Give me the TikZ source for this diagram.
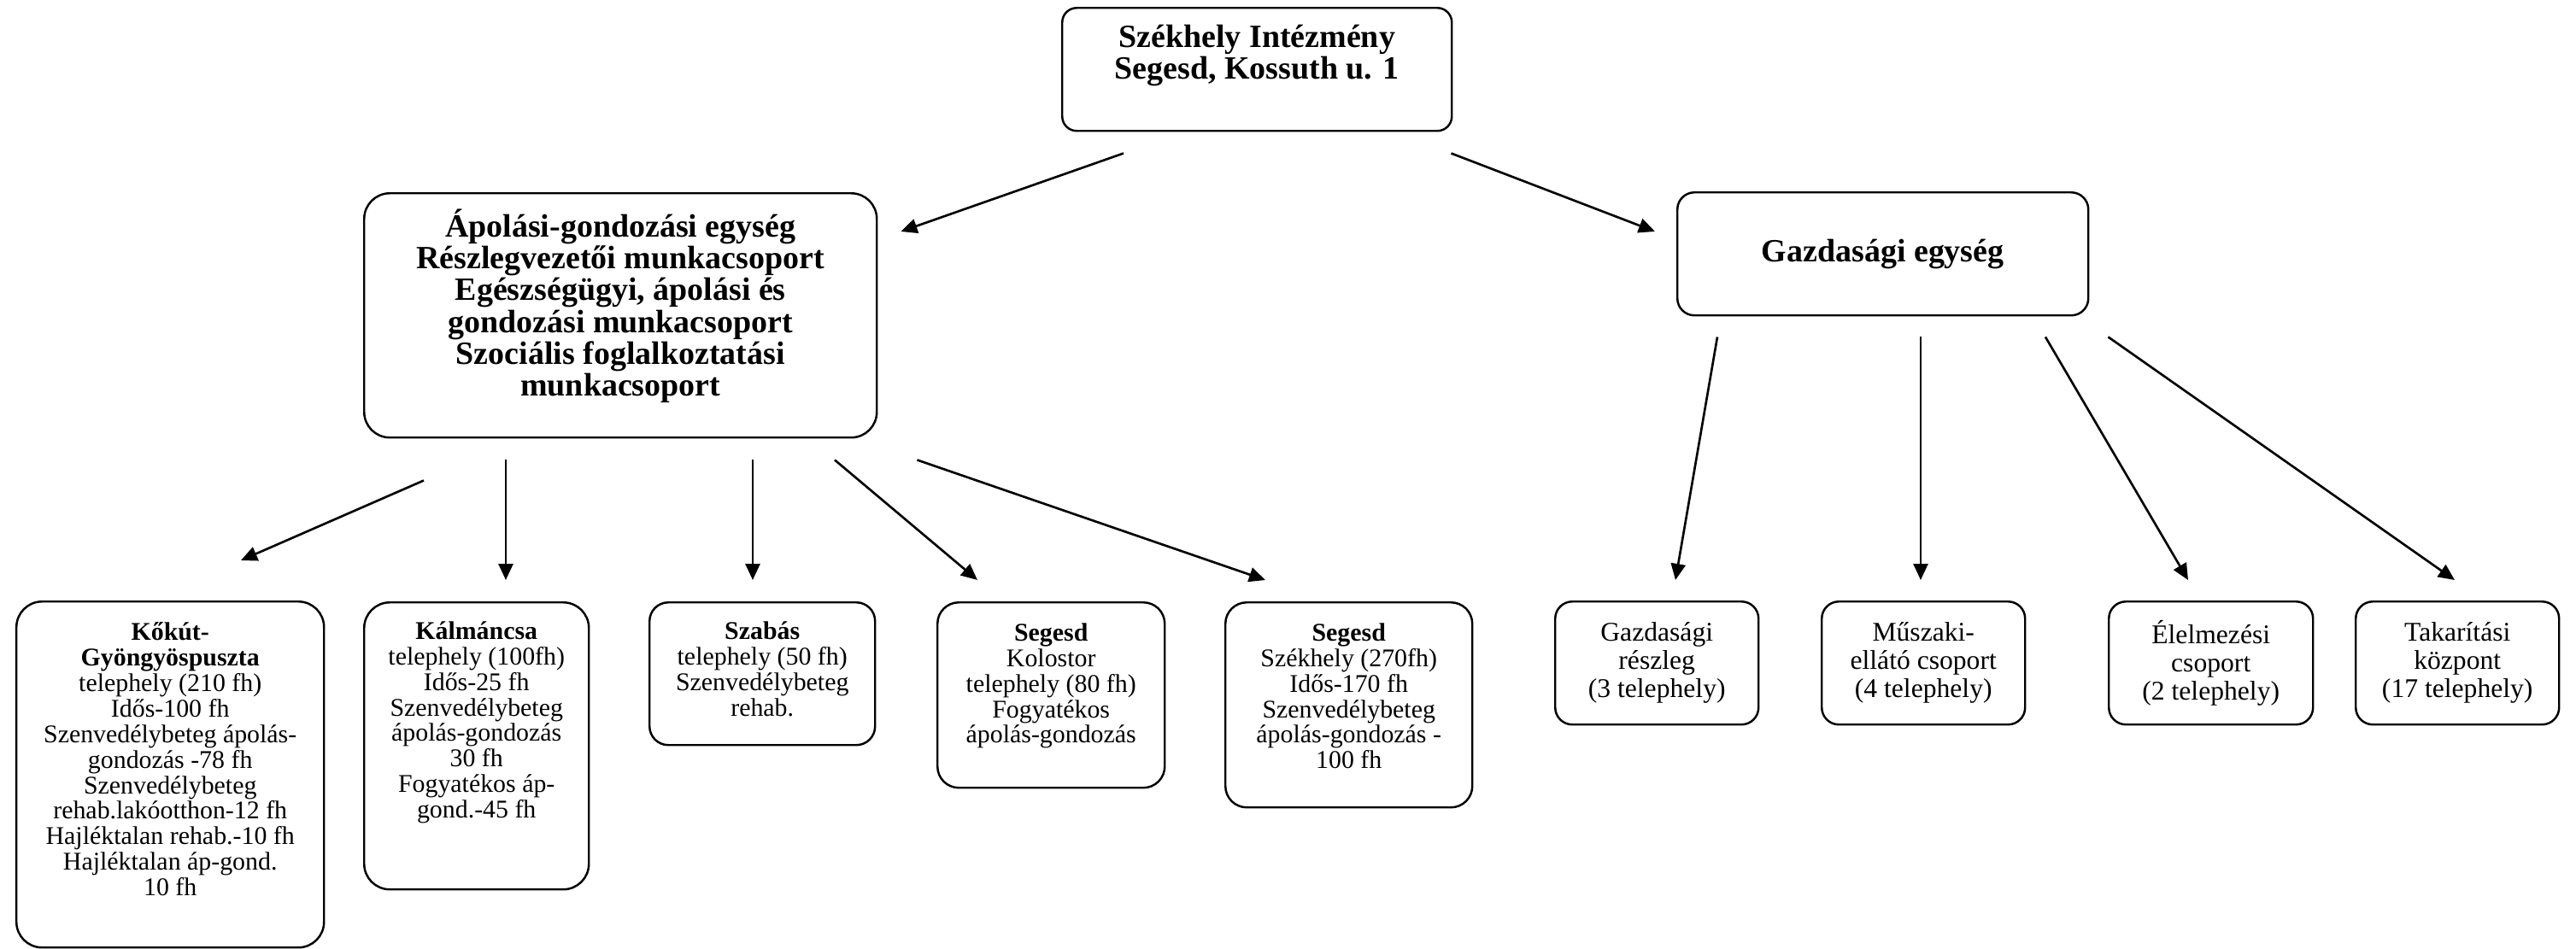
\documentclass[tikz,border=0pt]{standalone}
\usepackage{fontspec}
\setmainfont{Liberation Serif}
\usepackage{tikz}
\usetikzlibrary{arrows.meta}

\newcommand{\unitfont}{\fontsize{10.8}{10.6}\selectfont\bfseries}
\newcommand{\sitefont}{\fontsize{8.5}{8.5}\selectfont}
\newcommand{\groupfont}{\fontsize{9}{9.4}\selectfont}

\tikzset{
  unitbox/.style={draw, line width=0.7pt, rounded corners=0.17cm, inner sep=0pt, anchor=north west},
  sitebox/.style={unitbox, rounded corners=0.3cm},
  groupbox/.style={unitbox, rounded corners=0.2cm, align=center, font=\groupfont},
  lbl/.style={align=center, inner sep=0pt, anchor=north},
  arr/.style={-{Triangle[length=0.19cm,width=0.17cm]}, line width=0.75pt}
}

\begin{document}
\begin{tikzpicture}
\useasboundingbox (0,0) rectangle (30.15,-11.10);

\node[unitbox, minimum width=4.56cm, minimum height=1.44cm] (hq) at (12.42,-0.08) {};
\node[lbl, font=\unitfont] (hqtext) at ([yshift=-0.20cm]hq.north) {Székhely Intézmény\\Segesd, Kossuth u. 1};

\node[unitbox, rounded corners=0.3cm, minimum width=6.00cm, minimum height=2.86cm] (apolas) at (4.25,-2.25) {};
\node[lbl, font=\unitfont] (apolastext) at ([yshift=-0.19cm]apolas.north) {Ápolási-gondozási egység\\Részlegvezetői munkacsoport\\Egészségügyi, ápolási és\\gondozási munkacsoport\\Szociális foglalkoztatási\\munkacsoport};

\node[unitbox, rounded corners=0.2cm, minimum width=4.81cm, minimum height=1.44cm, font=\unitfont] (gazd) at (19.62,-2.24) {Gazdasági egység};

\node[sitebox, minimum width=3.60cm, minimum height=4.05cm] (kokut) at (0.18,-7.03) {};
\node[lbl, font=\sitefont] (kokuttext) at ([yshift=-0.25cm]kokut.north) {\textbf{Kőkút-}\\\textbf{Gyöngyöspuszta}\\telephely (210 fh)\\Idős-100 fh\\Szenvedélybeteg ápolás-\\gondozás -78 fh\\Szenvedélybeteg\\rehab.lakóotthon-12 fh\\Hajléktalan rehab.-10 fh\\Hajléktalan áp-gond.\\10 fh};

\node[sitebox, minimum width=2.63cm, minimum height=3.36cm] (kalman) at (4.25,-7.04) {};
\node[lbl, font=\sitefont] (kalmantext) at ([yshift=-0.23cm]kalman.north) {\textbf{Kálmáncsa}\\telephely (100fh)\\Idős-25 fh\\Szenvedélybeteg\\ápolás-gondozás\\30 fh\\Fogyatékos áp-\\gond.-45 fh};

\node[sitebox, rounded corners=0.22cm, minimum width=2.64cm, minimum height=1.67cm] (szabas) at (7.59,-7.04) {};
\node[lbl, font=\sitefont] (szabastext) at ([yshift=-0.23cm]szabas.north) {\textbf{Szabás}\\telephely (50 fh)\\Szenvedélybeteg\\rehab.};

\node[sitebox, rounded corners=0.25cm, minimum width=2.66cm, minimum height=2.17cm] (kolostor) at (10.96,-7.04) {};
\node[lbl, font=\sitefont] (kolostortext) at ([yshift=-0.25cm]kolostor.north) {\textbf{Segesd}\\Kolostor\\telephely (80 fh)\\Fogyatékos\\ápolás-gondozás};

\node[sitebox, rounded corners=0.25cm, minimum width=2.89cm, minimum height=2.40cm] (szekhely) at (14.33,-7.04) {};
\node[lbl, font=\sitefont] (szekhelytext) at ([yshift=-0.25cm]szekhely.north) {\textbf{Segesd}\\Székhely (270fh)\\Idős-170 fh\\Szenvedélybeteg\\ápolás-gondozás -\\100 fh};

\node[groupbox, minimum width=2.38cm, minimum height=1.44cm] (reszleg) at (18.19,-7.03) {Gazdasági\\részleg\\(3 telephely)};
\node[groupbox, minimum width=2.38cm, minimum height=1.44cm] (muszaki) at (21.31,-7.03) {Műszaki-\\ellátó csoport\\(4 telephely)};
\node[groupbox, minimum width=2.39cm, minimum height=1.44cm] (elelmezes) at (24.67,-7.03) {Élelmezési\\csoport\\(2 telephely)};
\node[groupbox, minimum width=2.38cm, minimum height=1.44cm] (takaritas) at (27.56,-7.03) {Takarítási\\központ\\(17 telephely)};

\draw[arr] ([shift={(0.73,-0.25)}]hq.south west) -- ([shift={(0.27,-0.46)}]apolas.north east);
\draw[arr] ([shift={(-0.02,-0.25)}]hq.south east) -- ([shift={(-0.25,-0.47)}]gazd.north west);

\draw[arr] ([shift={(0.71,-0.49)}]apolas.south west) -- ([shift={(2.64,0.47)}]kokut.north west);
\draw[arr] ([shift={(1.67,-0.25)}]apolas.south west) -- ([shift={(1.67,0.25)}]kalman.north west);
\draw[arr] ([shift={(4.56,-0.25)}]apolas.south west) -- ([shift={(1.22,0.25)}]szabas.north west);
\draw[arr] ([shift={(5.52,-0.25)}]apolas.south west) -- ([shift={(0.48,0.25)}]kolostor.north west);
\draw[arr] ([shift={(0.46,-0.25)}]apolas.south east) -- ([shift={(0.48,0.25)}]szekhely.north west);

\draw[arr] ([shift={(0.48,-0.24)}]gazd.south west) -- ([shift={(1.42,0.24)}]reszleg.north west);
\draw[arr] ([shift={(2.86,-0.24)}]gazd.south west) -- ([shift={(1.17,0.24)}]muszaki.north west);
\draw[arr] ([shift={(4.32,-0.24)}]gazd.south west) -- ([shift={(0.94,0.24)}]elelmezes.north west);
\draw[arr] ([shift={(0.22,-0.24)}]gazd.south east) -- ([shift={(1.17,0.24)}]takaritas.north west);
\end{tikzpicture}
\end{document}
